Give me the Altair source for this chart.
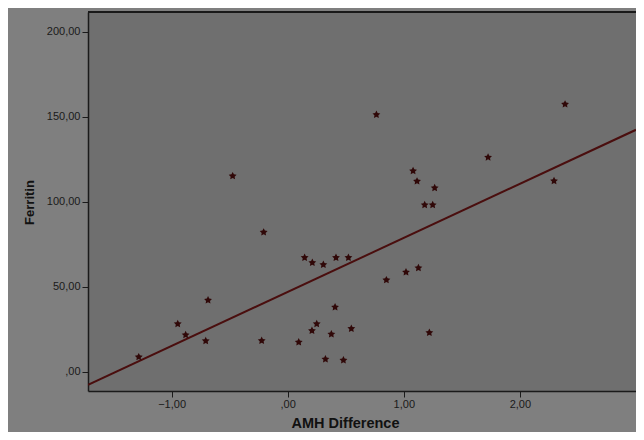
import altair as alt
import pandas as pd

amh_diff = [-1.283, -0.947, -0.879, -0.686, -0.706, -0.474, -0.207, -0.224,
            0.095, 0.146, 0.212, 0.307, 0.416, 0.523, 0.209, 0.250, 0.408,
            0.376, 0.548, 0.325, 0.480, 0.764, 0.850, 1.080, 1.114, 1.266,
            1.180, 1.249, 1.019, 1.126, 1.220, 1.726, 2.389, 2.294]
ferritin = [8.6, 28.1, 21.6, 42.0, 18.1, 115.1, 82.0, 18.2,
            17.3, 67.1, 64.1, 62.9, 67.1, 67.1, 24.1, 28.1, 37.9,
            22.0, 25.3, 7.3, 6.7, 151.2, 53.9, 118.1, 112.0, 108.1,
            98.1, 98.1, 58.5, 61.0, 22.9, 126.1, 157.3, 112.2]
x_ticks = [-1, 0, 1, 2]
y_ticks = [0, 50, 100, 150, 200]

df = pd.DataFrame({"amh": amh_diff, "ferritin": ferritin})

STAR = ("M0,-1 L0.294,-0.405 L0.951,-0.309 L0.476,0.155 L0.588,0.809 "
        "L0,0.5 L-0.588,0.809 L-0.476,0.155 L-0.951,-0.309 L-0.294,-0.405 Z")

lab = "datum.value == 0 ? ',00' : replace(format(datum.value, '.2f'), '.', ',')"

W = 548
xmax = -1.72 + W / 116.1

xs = alt.Scale(domain=[-1.72, xmax], nice=False, zero=False)
ys = alt.Scale(domain=[-11.4, 211.6], nice=False, zero=False)

x_axis = alt.Axis(values=x_ticks, labelExpr=lab, grid=False, title="AMH Difference",
                  titleX=257, titleY=32, titleAlign="center", titleBaseline="middle",
                  titleFontSize=14.5, titleFontWeight="bold", titleColor="#111111",
                  labelFontSize=11, labelColor="#1a1a1a", labelPadding=1,
                  tickSize=6, tickColor="#1a1a1a", domainColor="#1a1a1a", domainWidth=1.5)
y_axis = alt.Axis(values=y_ticks, labelExpr=lab, grid=False, title="Ferritin",
                  titleX=-59, titleY=190, titleAlign="center", titleBaseline="middle",
                  titleAngle=270,
                  titleFontSize=13, titleFontWeight="bold", titleColor="#111111",
                  labelFontSize=11, labelColor="#1a1a1a", labelPadding=2,
                  tickSize=6, tickColor="#1a1a1a", domainColor="#1a1a1a", domainWidth=1.5)

base = alt.Chart(df)

points = base.mark_point(shape=STAR, filled=True, size=68, color="#300808", opacity=1).encode(
    x=alt.X("amh:Q", scale=xs, axis=x_axis),
    y=alt.Y("ferritin:Q", scale=ys, axis=y_axis),
)

line = base.transform_regression("amh", "ferritin", extent=[-1.72, xmax]).mark_line(
    color="#4a0e0e", strokeWidth=2, clip=True
).encode(
    x=alt.X("amh:Q", scale=xs),
    y=alt.Y("ferritin:Q", scale=ys),
)

top = alt.Chart(df).mark_rule(color="#1a1a1a", strokeWidth=1.5).encode(
    x=alt.value(0), x2=alt.value(W), y=alt.value(0)
)

chart = alt.layer(line, points, top).properties(
    width=W, height=379, autosize="none",
    padding={"left": 80, "top": 4, "right": 0, "bottom": 41},
    background="#7f7f7f",
).configure_view(fill="#6f6f6f", stroke=None).configure_axis(
    labelFont="Liberation Sans", titleFont="Liberation Sans"
)

chart.save("out.html", embed_options={"renderer": "svg", "actions": False})
